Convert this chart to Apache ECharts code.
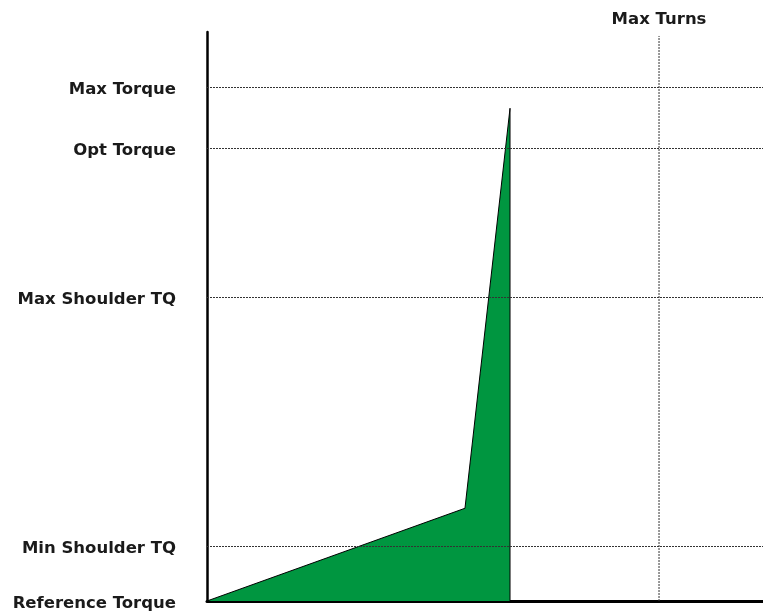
<!DOCTYPE html>
<html>
<head>
<meta charset="utf-8">
<script src="https://cdn.jsdelivr.net/npm/echarts@6/dist/echarts.min.js"></script>
<style>html,body{margin:0;padding:0;background:#fff}#c{width:763px;height:613px}</style>
</head>
<body>
<div id="c"></div>
<script>
// Torque levels (relative units, 0..100 of axis height)
const levelNames = ['Reference Torque', 'Min Shoulder TQ', 'Max Shoulder TQ', 'Opt Torque', 'Max Torque'];
const levelValues = [0, 9.7, 53.4, 79.6, 90.3];
// Torque curve (x = turns, relative 0..100; y = torque)
const curveX = [0, 46.4, 54.5, 54.5];
const curveY = [0, 16.3, 86.6, 0];
// Max turns marker
const maxTurnsName = 'Max Turns';
const maxTurnsX = 81.3;
const maxTurnsTop = 99.3;

const font = 'DejaVu Sans';
const labelMap = {};
levelValues.forEach((v, i) => { labelMap[v] = levelNames[i]; });

const chart = echarts.init(document.getElementById('c'));
chart.setOption({
  backgroundColor: '#ffffff',
  animation: false,
  grid: { left: 207, right: 0, top: 32, bottom: 12, containLabel: false },
  xAxis: [{
    type: 'value', min: 0, max: 100, position: 'bottom',
    axisLine: { show: true, onZero: false, lineStyle: { color: '#000', width: 3 } },
    axisTick: { show: false }, axisLabel: { show: false }, splitLine: { show: false }
  }, {
    type: 'value', min: 0, max: 100, position: 'top',
    axisLine: { show: false }, axisTick: { show: false }, splitLine: { show: false },
    axisLabel: {
      show: true, customValues: [maxTurnsX], margin: 4,
      formatter: () => maxTurnsName,
      fontFamily: font, fontWeight: 'bold', fontSize: 16.5, color: '#1a1a1a'
    }
  }],
  yAxis: {
    type: 'value', min: 0, max: 100,
    axisLine: { show: true, lineStyle: { color: '#000', width: 2.5 } },
    axisTick: { show: false }, splitLine: { show: false },
    axisLabel: {
      show: true, customValues: levelValues, margin: 31,
      formatter: (v) => '{t|' + (labelMap[v] || '') + '}',
      rich: {
        t: {
          padding: [6, 0, 0, 0],
          fontFamily: font, fontWeight: 'bold', fontSize: 16.5, color: '#1a1a1a'
        }
      },
      fontFamily: font, fontWeight: 'bold', fontSize: 16.5, color: '#1a1a1a'
    }
  },
  series: [{
    type: 'line',
    data: curveX.map((x, i) => [x, curveY[i]]),
    symbol: 'none',
    lineStyle: { color: '#000', width: 1 },
    areaStyle: { color: '#009640', opacity: 1 },
    z: 3,
    markLine: {
      silent: true, symbol: 'none', label: { show: false },
      lineStyle: { color: '#333', width: 1, type: [2, 1] },
      data: levelValues.filter(v => v > 0).map(v => ({ yAxis: v }))
    }
  }, {
    type: 'line',
    data: [[maxTurnsX, 0], [maxTurnsX, maxTurnsTop]],
    symbol: 'none',
    lineStyle: { color: '#333', width: 1, type: [2, 1] },
    z: 2
  }]
});
</script>
</body>
</html>
